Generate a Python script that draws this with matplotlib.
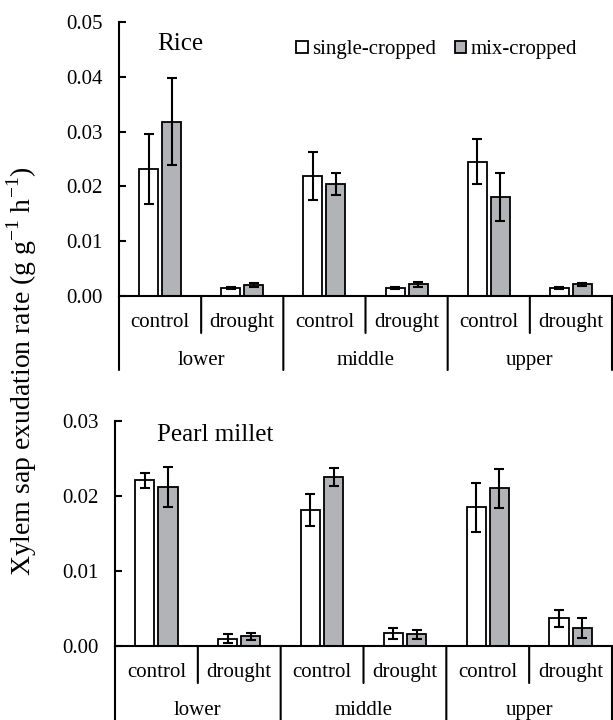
import numpy as np
import matplotlib
matplotlib.use('Agg')
import matplotlib.pyplot as plt
from matplotlib.ticker import FormatStrFormatter

plt.rcParams['font.family'] = 'Liberation Serif'
plt.rcParams['mathtext.fontset'] = 'custom'
plt.rcParams['mathtext.rm'] = 'Liberation Serif'

# data
treatments = ['control', 'drought'] * 3
positions = ['lower', 'middle', 'upper']

rice_single = [0.0232, 0.0015, 0.0219, 0.0014, 0.0245, 0.0014]
rice_single_err = [0.0064, 0.0002, 0.0043, 0.0002, 0.0041, 0.0002]
rice_mix = [0.0318, 0.0020, 0.0205, 0.0021, 0.0181, 0.0021]
rice_mix_err = [0.0079, 0.0003, 0.0020, 0.0004, 0.0044, 0.0002]

millet_single = [0.0221, 0.0010, 0.0181, 0.0017, 0.0185, 0.0037]
millet_single_err = [0.0010, 0.0006, 0.0021, 0.0007, 0.0033, 0.0011]
millet_mix = [0.0212, 0.0013, 0.0226, 0.0016, 0.0210, 0.0024]
millet_mix_err = [0.0027, 0.0005, 0.0012, 0.0006, 0.0026, 0.0013]

GREY = '#b1b3b6'
W, H = 613, 720
FS = 15
px = 0.72  # points per pixel at dpi 100

fig = plt.figure(figsize=(W / 100, H / 100), dpi=100)


def panel(rect, single, single_err, mix, mix_err, ymax, yticks, title, title_xy):
    ax = fig.add_axes(rect)
    x = np.arange(len(single))
    eb = dict(ecolor='black', elinewidth=1.5, capsize=3.3, capthick=1.5)
    b1 = ax.bar(x - 0.14, single, 0.23, yerr=single_err, color='white',
                edgecolor='black', linewidth=1.3, error_kw=eb, zorder=2)
    b2 = ax.bar(x + 0.14, mix, 0.23, yerr=mix_err, color=GREY,
                edgecolor='black', linewidth=1.3, error_kw=eb, zorder=2)
    ax.set_xlim(-0.5, 5.5)
    ax.set_ylim(0, ymax)
    ax.set_yticks(yticks)
    ax.yaxis.set_major_formatter(FormatStrFormatter('%.2f'))
    ax.tick_params(axis='y', direction='in', length=5, width=1.5, pad=12,
                   labelsize=FS)
    ax.set_xticks([])
    for s in ['top', 'right']:
        ax.spines[s].set_visible(False)
    ax.spines['left'].set_linewidth(1.5)
    ax.spines['bottom'].set_linewidth(1.5)

    # category axis below the plot
    trans = ax.get_xaxis_transform()
    for i in range(len(single) + 1):
        depth = 74 if i % 2 == 0 else 37
        ax.annotate('', xy=(i - 0.5, 0), xycoords=trans,
                    xytext=(0, -depth * px), textcoords='offset points',
                    arrowprops=dict(arrowstyle='-', lw=1.5, color='black',
                                    shrinkA=0, shrinkB=0))
    for i, t in enumerate(treatments):
        ax.annotate(t, xy=(i, 0), xycoords=trans, xytext=(0, -31 * px),
                    textcoords='offset points', ha='center', va='baseline',
                    fontsize=FS)
    for j, p in enumerate(positions):
        ax.annotate(p, xy=(2 * j + 0.5, 0), xycoords=trans,
                    xytext=(0, -69 * px), textcoords='offset points',
                    ha='center', va='baseline', fontsize=FS)
    ax.text(title_xy[0], title_xy[1], title, transform=ax.transAxes,
            fontsize=18, ha='left', va='center')
    return ax, b1, b2


def rect(left, right, top, bottom):
    return [left / W, 1 - bottom / H, (right - left) / W, (bottom - top) / H]


ax1, b1, b2 = panel(rect(119, 612, 22, 296), rice_single, rice_single_err,
                    rice_mix, rice_mix_err, 0.05,
                    [0, 0.01, 0.02, 0.03, 0.04, 0.05], 'Rice', (0.077, 0.92))
ax2, _, _ = panel(rect(115, 612, 421, 646), millet_single, millet_single_err,
                  millet_mix, millet_mix_err, 0.03,
                  [0, 0.01, 0.02, 0.03], 'Pearl millet', (0.085, 0.937))

ax1.legend([b1, b2], ['single-cropped', 'mix-cropped'], loc='center left',
           bbox_to_anchor=(0.36, 0.898), frameon=False, ncol=2, fontsize=FS,
           handlelength=0.55, handleheight=0.55, handletextpad=0.2,
           columnspacing=0.9, borderpad=0, borderaxespad=0)

fig.text(22 / W, 1 - 371 / H,
         r'Xylem sap exudation rate (g g$^{\mathregular{-1}}$ h$^{\mathregular{-1}}$)',
         rotation=90, ha='center', va='center', fontsize=20)

fig.savefig('out.png', dpi=100)
